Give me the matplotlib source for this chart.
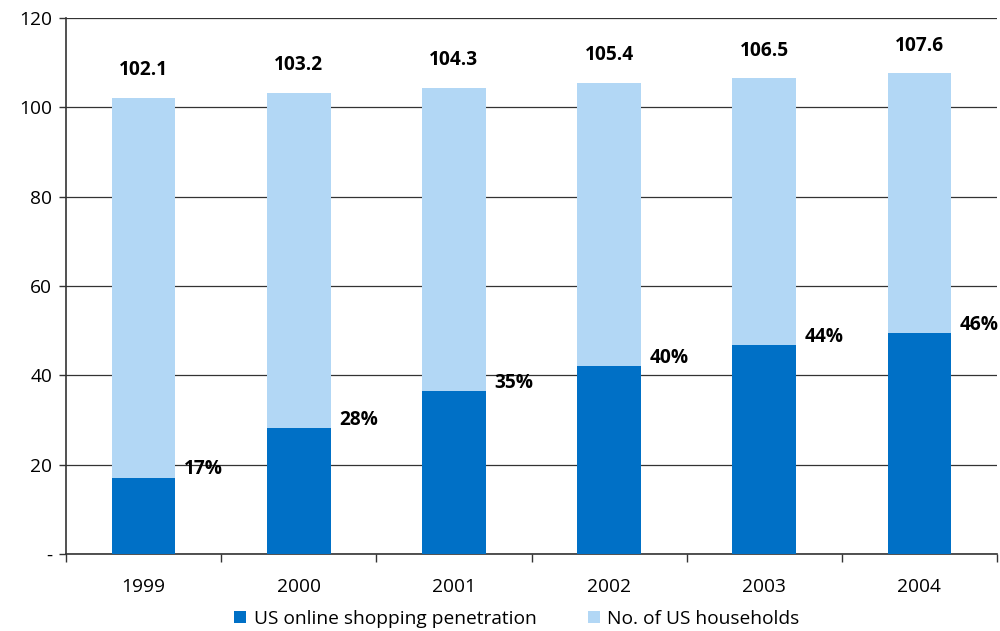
import matplotlib
matplotlib.use("Agg")
import matplotlib.pyplot as plt
from matplotlib.ticker import FixedLocator, FuncFormatter

years = ["1999", "2000", "2001", "2002", "2003", "2004"]
households = [102.1, 103.2, 104.3, 105.4, 106.5, 107.6]
online = [17.1, 28.1, 36.4, 42.1, 46.8, 49.4]
pct_labels = ["17%", "28%", "35%", "40%", "44%", "46%"]

DARK = "#0070C6"
LIGHT = "#B2D7F5"

plt.rcParams['font.family'] = ['Open Sans', 'DejaVu Sans']
FS = 13.8

fig = plt.figure(figsize=(10, 6.31), dpi=100)
ax = fig.add_axes([0.066, 0.122, 0.931, 0.8495])

x = list(range(len(years)))
w = 0.41
ax.bar(x, households, width=w, color=LIGHT, zorder=2, label="No. of US households")
ax.bar(x, online, width=w, color=DARK, zorder=3, label="US online shopping penetration")

for i in x:
    ax.annotate(f"{households[i]:.1f}", (i, households[i]), xytext=(0, 20),
                textcoords="offset points", ha="center", va="center",
                fontsize=FS, fontweight="bold")
    ax.annotate(pct_labels[i], (i + w / 2, online[i]), xytext=(6, 6),
                textcoords="offset points", ha="left", va="center",
                fontsize=FS, fontweight="bold")

ax.set_xlim(-0.5, len(years) - 0.5)
ax.set_ylim(0, 120)
ax.set_yticks(range(0, 121, 20))
ax.yaxis.set_major_formatter(FuncFormatter(lambda v, p: "-" if v == 0 else f"{v:.0f}"))
ax.yaxis.grid(True, color="#333333", linewidth=0.9, zorder=0)
ax.set_axisbelow(True)

ax.set_xticks(x)
ax.set_xticklabels(years)
ax.xaxis.set_minor_locator(FixedLocator([i - 0.5 for i in range(len(years) + 1)]))
ax.tick_params(axis="x", which="major", length=0, pad=17, labelsize=FS)
ax.tick_params(axis="x", which="minor", length=6, width=1, color="#333333", direction="out")
ax.tick_params(axis="y", length=5, width=1, color="#333333", pad=5, labelsize=FS)

for s in ["top", "right"]:
    ax.spines[s].set_visible(False)
for s in ["left", "bottom"]:
    ax.spines[s].set_color("#333333")
    ax.spines[s].set_linewidth(1.2)

handles, labels = ax.get_legend_handles_labels()
fig.legend(handles[::-1], labels[::-1], loc="lower center", bbox_to_anchor=(0.517, -0.022),
           ncol=2, frameon=False, fontsize=FS, handlelength=0.6, handleheight=0.6,
           handletextpad=0.4, columnspacing=2.7)

fig.savefig("out.png", dpi=100)
